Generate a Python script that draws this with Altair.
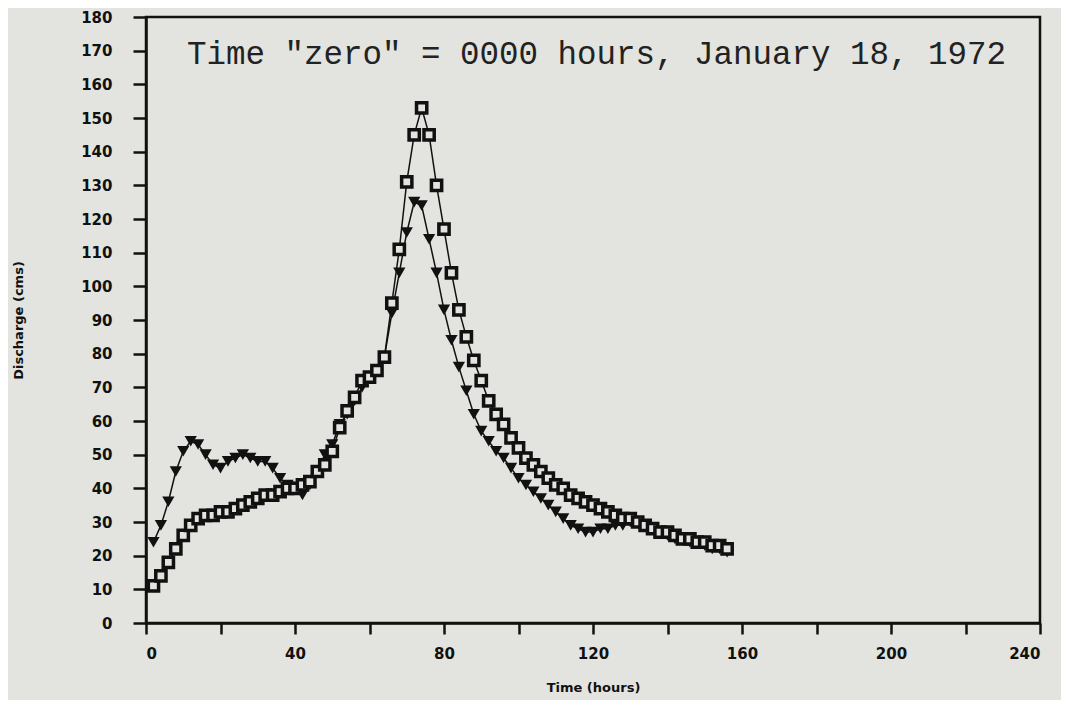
import altair as alt
import pandas as pd

hours = list(range(2, 157, 2))

tri_q = [24, 29, 36, 45, 51, 54, 53, 50, 47, 46,
         48, 49, 50, 49, 48, 48, 46, 43, 41, 40,
         38, 41, 45, 50, 53, 59, 62, 66, 70, 73,
         75, 79, 92, 104, 116, 125, 124, 114, 104, 93,
         84, 76, 69, 62, 57, 54, 51, 49, 46, 43,
         41, 39, 37, 35, 33, 31, 29, 28, 27, 27,
         28, 28, 29, 29, 30, 30, 29, 28, 27, 26,
         25, 25, 24, 24, 23, 22, 22, 21]

sq_q = [11, 14, 18, 22, 26, 29, 31, 32, 32, 33,
        33, 34, 35, 36, 37, 38, 38, 39, 40, 40,
        41, 42, 45, 47, 51, 58, 63, 67, 72, 73,
        75, 79, 95, 111, 131, 145, 153, 145, 130, 117,
        104, 93, 85, 78, 72, 66, 62, 59, 55, 52,
        49, 47, 45, 43, 41, 40, 38, 37, 36, 35,
        34, 33, 32, 31, 31, 30, 29, 28, 27, 27,
        26, 25, 25, 24, 24, 23, 23, 22]

x_ticks = list(range(0, 241, 20))
y_ticks = list(range(0, 181, 10))

note_text = ['Time "zero" = 0000 hours, January 18, 1972']
note_t = [11]
note_q = [166]

tri_df = pd.DataFrame({"t": hours, "q": tri_q})
sq_df = pd.DataFrame({"t": hours, "q": sq_q})
note_df = pd.DataFrame({"t": note_t, "q": note_q, "label": note_text})

BG = "#e3e4df"
INK = "#111111"

xscale = alt.Scale(domain=[0, 240], nice=False, zero=False)
yscale = alt.Scale(domain=[0, 180], nice=False)

xenc = alt.X("t:Q", scale=xscale, title="Time (hours)",
             axis=alt.Axis(values=x_ticks,
                           labelExpr="datum.value % 40 == 0 ? datum.label : ''",
                           tickSize=11, tickWidth=2.5, labelPadding=12,
                           titlePadding=20, labelOverlap=False))
yenc = alt.Y("q:Q", scale=yscale, title="Discharge (cms)",
             axis=alt.Axis(values=y_ticks, tickSize=13, tickWidth=2.5,
                           labelPadding=21, labelOverlap=False,
                           titleAngle=270, titleX=-128,
                           titleY=303, titleAlign="center",
                           titleBaseline="middle"))

tri_line = alt.Chart(tri_df).mark_line(color=INK, strokeWidth=1.5).encode(x=xenc, y=yenc)
tri_pts = alt.Chart(tri_df).mark_point(shape="triangle-down", filled=True,
                                       color=INK, size=150, opacity=1).encode(x=xenc, y=yenc)
sq_line = alt.Chart(sq_df).mark_line(color=INK, strokeWidth=1.5).encode(x=xenc, y=yenc)
sq_pts = alt.Chart(sq_df).mark_point(shape="square", filled=False, color=INK,
                                     strokeWidth=3.5, size=105, opacity=1,
                                     fill=BG, fillOpacity=1).encode(x=xenc, y=yenc)

note = alt.Chart(note_df).mark_text(font="Liberation Mono", fontSize=32.5,
                                    align="left", baseline="alphabetic",
                                    color="#222222").encode(
    x=xenc, y=yenc, text="label:N")

chart = alt.layer(tri_line, sq_line, tri_pts, sq_pts, note).properties(
    width=894, height=606,
    autosize=alt.AutoSizeParams(type="none"),
    padding={"left": 138, "top": 9, "right": 21, "bottom": 77},
    background=BG,
).configure_view(
    stroke=INK, strokeWidth=2.5
).configure_axis(
    domainColor=INK, domainWidth=2.5, tickColor=INK, grid=False,
    labelFont="DejaVu Sans", labelFontWeight="bold", labelFontSize=15,
    labelColor=INK, titleFont="DejaVu Sans", titleFontWeight="bold",
    titleFontSize=13, titleColor=INK
)

chart.save("out.html", embed_options={"renderer": "svg", "actions": False})
